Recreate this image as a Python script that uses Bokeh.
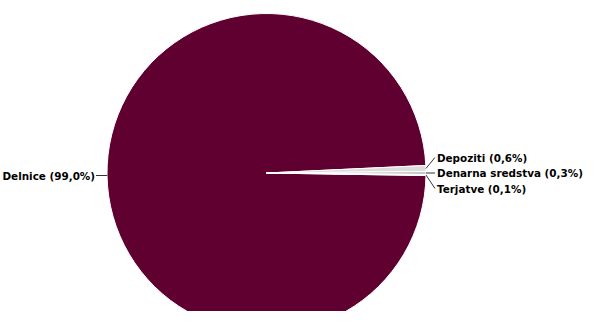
import math
from bokeh.plotting import figure
from bokeh.models import Range1d, ColumnDataSource
from bokeh.core.properties import value
from bokeh.embed import file_html
from bokeh.resources import INLINE

categories = ["Delnice", "Depoziti", "Denarna sredstva", "Terjatve"]
shares = [99.0, 0.6, 0.3, 0.1]
labels = ["Delnice (99,0%)", "Depoziti (0,6%)", "Denarna sredstva (0,3%)", "Terjatve (0,1%)"]
colors = ["#600030", "#dcdcdc", "#c4c4c4", "#ececec"]

W, H = 586, 311
cx, cy, r = 266.0, H - 172.5, 159.5
FS = "10.4px"

total = sum(shares)
fracs = [s / total * 2 * math.pi for s in shares]
# clockwise order on screen; "Denarna sredstva" centred at 3 o'clock
base = fracs[1] + fracs[2] / 2
acc = -fracs[0] - base
starts, ends = [], []
for f in fracs:
    a0, a1 = acc, acc + f
    starts.append(-a1)
    ends.append(-a0)
    acc += f

src = ColumnDataSource(dict(cat=categories, start=starts, end=ends, color=colors))

p = figure(width=W, height=H, output_backend="svg", toolbar_location=None,
           x_range=Range1d(0, W), y_range=Range1d(0, H),
           min_border=0, outline_line_color=None)
p.axis.visible = False
p.grid.visible = False
p.background_fill_color = "white"

p.wedge(x=cx, y=cy, radius=r, start_angle="start", end_angle="end",
        fill_color="color", line_color="white", line_width=1, source=src)

font = value("DejaVu Sans")
mid0 = (starts[0] + ends[0]) / 2
ex, ey = cx + r * math.cos(mid0), cy + r * math.sin(mid0)
p.line([ex, ex - 11], [ey, ey], line_color="#333333", line_width=1)
p.text([ex - 12], [ey], text=[labels[0]], text_font=font, text_font_style="bold",
       text_font_size=FS, text_align="right", text_baseline="middle", text_color="#000000")

label_dy = [15.5, 0, -15.5]
for i, dy in zip([1, 2, 3], label_dy):
    mid = (starts[i] + ends[i]) / 2
    ex, ey = cx + r * math.cos(mid), cy + r * math.sin(mid)
    lx, ly = ex + 9, cy + dy
    p.line([ex, lx], [ey, ly], line_color="#333333", line_width=1)
    p.text([lx + 2], [ly], text=[labels[i]], text_font=font, text_font_style="bold",
           text_font_size=FS, text_align="left", text_baseline="middle", text_color="#000000")

open("out.html", "w").write(file_html(p, INLINE))
